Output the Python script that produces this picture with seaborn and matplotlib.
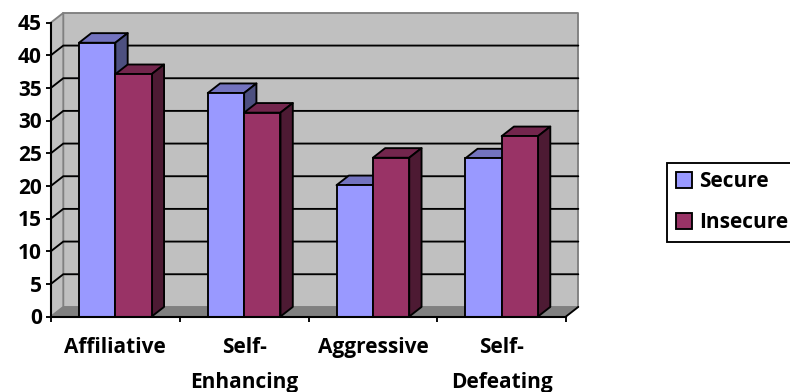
import matplotlib
matplotlib.use("Agg")
import matplotlib.pyplot as plt
from matplotlib.patches import Polygon
from matplotlib.ticker import FixedLocator, NullFormatter
import pandas as pd
import seaborn as sns

categories = ["Affiliative", "Self-\nEnhancing", "Aggressive", "Self-\nDefeating"]
secure = [41.9, 34.2, 20.1, 24.2]
insecure = [37.1, 31.2, 24.3, 27.6]
series_names = ["Secure", "Insecure"]
y_ticks = list(range(0, 50, 5))

FRONT = {"Secure": "#9999FF", "Insecure": "#993366"}
TOP = {"Secure": "#7373BF", "Insecure": "#73264D"}
SIDE = {"Secure": "#4D5080", "Insecure": "#4D1A33"}
WALL = "#C0C0C0"
FLOOR = "#808080"

W, H = 790, 392
LEFT, RIGHT, TOP_Y, BOTTOM_Y = 51, 566, 22.5, 316.5
LW = 1.35

sns.set_theme(style="white")
plt.rcParams["font.family"] = ["Open Sans", "DejaVu Sans"]
plt.rcParams["font.weight"] = "bold"
plt.rcParams["text.color"] = "black"
FS = 15

frame = pd.DataFrame({
    "category": categories * 2,
    "series": [series_names[0]] * 4 + [series_names[1]] * 4,
    "value": secure + insecure,
})

fig = plt.figure(figsize=(W / 100, H / 100), dpi=100)
ax = fig.add_axes([LEFT / W, 1 - BOTTOM_Y / H, (RIGHT - LEFT) / W, (BOTTOM_Y - TOP_Y) / H])
sns.barplot(data=frame, x="category", y="value", hue="series", hue_order=series_names,
            palette=FRONT, width=0.565, gap=0, dodge=True, saturation=1, legend=False,
            edgecolor="black", linewidth=LW, ax=ax)
ax.set_xlim(-0.5, 3.5)
ax.set_ylim(0, 45)
ax.patch.set_visible(False)

# Depth of the 3D box, in data units
DX = 12.3 / ((RIGHT - LEFT) / 4)
DY = 9.6 / ((BOTTOM_Y - TOP_Y) / 45)
x0, x1 = ax.get_xlim()


def poly(points, face, z, edge="none", lw=0.0):
    ax.add_patch(Polygon(points, closed=True, facecolor=face, edgecolor=edge,
                         linewidth=lw, zorder=z, clip_on=False, joinstyle="round"))


# Back wall, side wall and floor
poly([(x0 + DX, DY), (x1 + DX, DY), (x1 + DX, 45 + DY), (x0 + DX, 45 + DY)], WALL, 0.5, FLOOR, LW)
poly([(x0, 0), (x0 + DX, DY), (x0 + DX, 45 + DY), (x0, 45)], WALL, 0.5, FLOOR, LW)
poly([(x0, 0), (x1, 0), (x1 + DX, DY), (x0 + DX, DY)], FLOOR, 0.7)

# Gridlines run across the side wall and the back wall
for v in y_ticks[1:-1]:
    ax.plot([x0, x0 + DX, x1 + DX], [v, v + DY, v + DY], color="black", lw=LW,
            zorder=0.8, clip_on=False, solid_joinstyle="miter")
ax.plot([x1, x1 + DX], [0, DY], color="black", lw=LW, zorder=0.9, clip_on=False)

# Each bar gets a top and a side face; later series sit in front of earlier ones
for level, (name, bars) in enumerate(zip(series_names, ax.containers)):
    z = 3 + level
    for bar in bars:
        left, right, h = bar.get_x(), bar.get_x() + bar.get_width(), bar.get_height()
        bar.set_zorder(z + 0.1)
        poly([(left, h), (right, h), (right + DX, h + DY), (left + DX, h + DY)],
             TOP[name], z, "black", LW)
        poly([(right, 0), (right + DX, DY), (right + DX, h + DY), (right, h)],
             SIDE[name], z, "black", LW)

sns.despine(ax=ax, top=True, right=True)
for side in ("left", "bottom"):
    ax.spines[side].set_color("black")
    ax.spines[side].set_linewidth(1.5)
    ax.spines[side].set_zorder(6)

ax.set_xlabel("")
ax.set_ylabel("")
ax.set_yticks(y_ticks)
ax.tick_params(axis="y", length=3.6, width=LW, color="black", labelsize=FS,
               labelcolor="black", pad=3, left=True)
ax.set_xticks(range(4), categories)
ax.tick_params(axis="x", which="major", length=0, labelsize=FS, labelcolor="black", pad=15)
ax.xaxis.set_minor_locator(FixedLocator([-0.5, 0.5, 1.5, 2.5, 3.5]))
ax.xaxis.set_minor_formatter(NullFormatter())
ax.tick_params(axis="x", which="minor", length=3.6, width=LW, color="black", bottom=True)
for label in ax.get_xticklabels():
    label.set_linespacing(1.88)
    label.set_va("top")

legend = fig.legend(
    handles=[c.patches[0] for c in ax.containers], labels=series_names,
    loc="upper left", bbox_to_anchor=(667 / W, 1 - 162.5 / H), bbox_transform=fig.transFigure,
    frameon=True, fancybox=False, edgecolor="black", facecolor="white", framealpha=1,
    fontsize=FS, handlelength=0.77, handleheight=0.77, handletextpad=0.33,
    labelspacing=0.95, borderpad=0.42, borderaxespad=0,
)
legend.get_frame().set_linewidth(LW)

fig.savefig("out.png", dpi=100, facecolor="white")
